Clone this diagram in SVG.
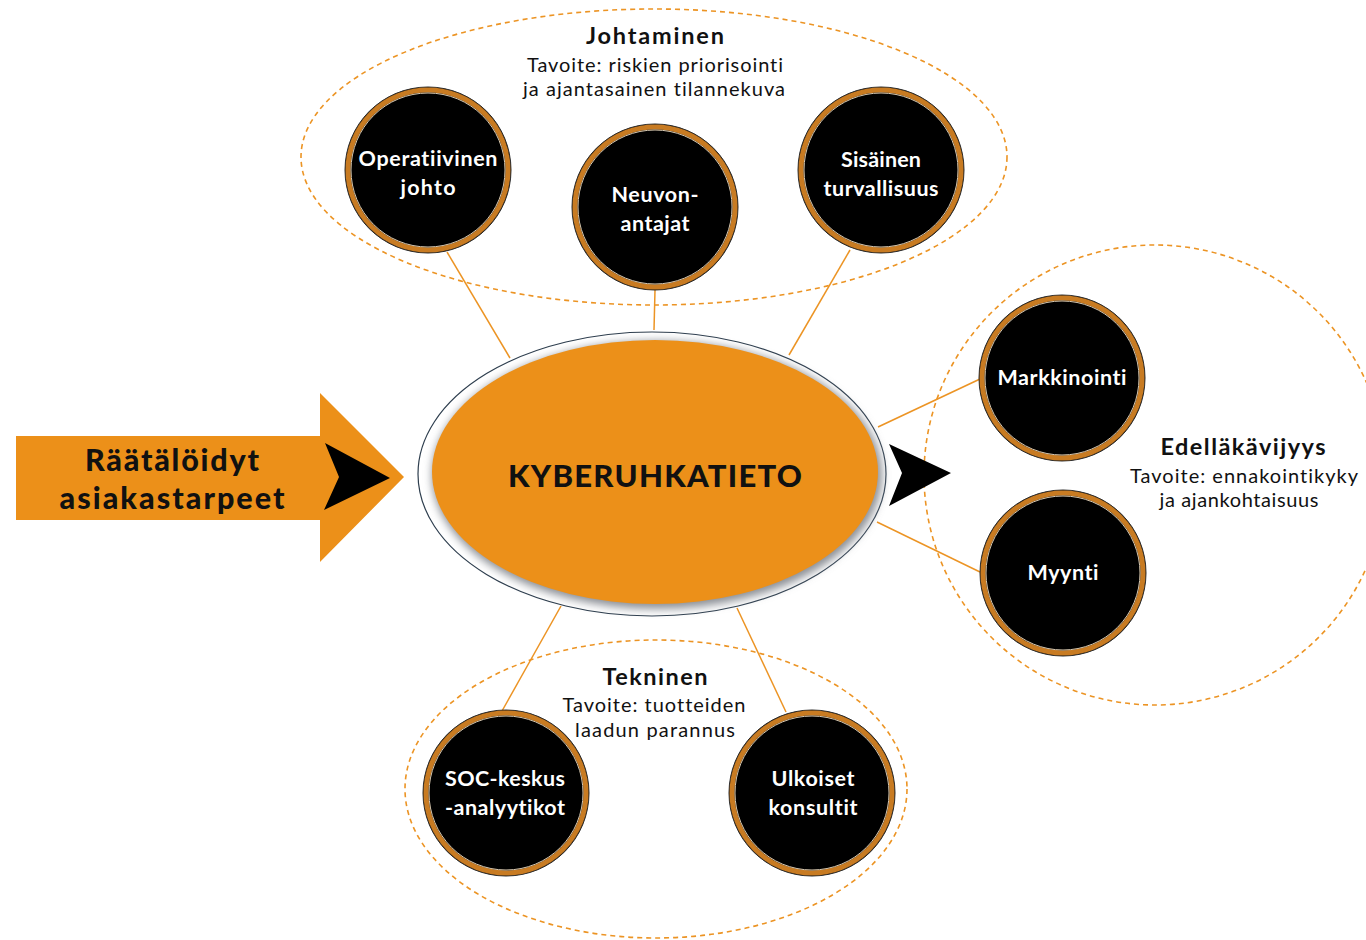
<svg xmlns="http://www.w3.org/2000/svg" width="1366" height="940" viewBox="0 0 1366 940">
  <defs>
    <style>
      text { font-variant-ligatures: none; font-feature-settings: "liga" 0, "clig" 0; }
      .group { fill: none; stroke: #EC9424; stroke-width: 1.6; stroke-dasharray: 5 4; }
      .link { stroke: #EC9424; stroke-width: 1.5; fill: none; }
      .ring-out { fill: #000; stroke: #2b2b2b; stroke-width: 1; }
      .ring { fill: none; stroke: #C87B22; stroke-width: 5; }
      .ring-in { fill: none; stroke: #d9c9b0; stroke-width: 1; }
      .lbl { font-family: Lato, "Open Sans", "Liberation Sans", sans-serif; font-weight: 700; font-size: 21.5px; fill: #fff; text-anchor: middle; }
      .title { font-family: Lato, "Open Sans", "Liberation Sans", sans-serif; font-weight: 700; font-size: 23.5px; fill: #111; text-anchor: middle; }
      .sub { font-family: Lato, "Open Sans", "Liberation Sans", sans-serif; font-size: 20px; fill: #111; text-anchor: middle; }
      .big { font-family: Lato, "Open Sans", "Liberation Sans", sans-serif; font-weight: 900; fill: #111; text-anchor: middle; }
    </style>
    <filter id="soft" x="-10%" y="-10%" width="120%" height="120%">
      <feGaussianBlur stdDeviation="4"/>
    </filter>
    <g id="node">
      <circle r="83" class="ring-out"/>
      <circle r="80" class="ring"/>
      <circle r="77" class="ring-in"/>
    </g>
  </defs>

  <rect width="1366" height="940" fill="#fff"/>

  <!-- group outlines -->
  <g id="groups">
    <ellipse cx="654" cy="157" rx="353" ry="148" class="group"/>
    <ellipse cx="1155" cy="475" rx="231" ry="230" class="group"/>
    <ellipse cx="656" cy="789" rx="251" ry="149" class="group"/>
  </g>

  <!-- connectors -->
  <g id="connectors">
    <line x1="447" y1="252" x2="510" y2="358" class="link"/>
    <line x1="655" y1="290" x2="654" y2="330" class="link"/>
    <line x1="850" y1="250" x2="789" y2="355" class="link"/>
    <line x1="980" y1="379" x2="878" y2="427" class="link"/>
    <line x1="980" y1="572" x2="877" y2="522" class="link"/>
    <line x1="502" y1="711" x2="561" y2="606" class="link"/>
    <line x1="786" y1="712" x2="737" y2="608" class="link"/>
  </g>

  <!-- input arrow -->
  <g id="input-arrow">
    <polygon points="16,436 320,436 320,393 404,477 320,562 320,520 16,520" fill="#EC9019"/>
    <polygon points="325,443 390,478 324,510 339,477" fill="#000"/>
    <text x="172" y="471" class="big" font-size="30.5" textLength="174" lengthAdjust="spacing">Räätälöidyt</text>
    <text x="172" y="509" class="big" font-size="30.5" textLength="225" lengthAdjust="spacing">asiakastarpeet</text>
  </g>

  <!-- central node -->
  <g id="center">
    <ellipse cx="652" cy="474" rx="234" ry="142" fill="#fff" stroke="#2e3e4e" stroke-width="1.2"/>
    <ellipse cx="657" cy="475" rx="225" ry="134" fill="#8c9096" filter="url(#soft)"/>
    <ellipse cx="655" cy="472" rx="223" ry="132" fill="#EC9019"/>
    <text x="655" y="487" class="big" font-size="31" textLength="294" lengthAdjust="spacing">KYBERUHKATIETO</text>
  </g>

  <!-- output chevron -->
  <g id="output-arrow">
    <polygon points="889,444 951,473 889,506 902,473" fill="#000"/>
  </g>

  <!-- Johtaminen -->
  <g id="johtaminen-label">
    <text x="655" y="44" class="title" textLength="138" lengthAdjust="spacing">Johtaminen</text>
    <text x="655" y="72" class="sub" textLength="256" lengthAdjust="spacing">Tavoite: riskien priorisointi</text>
    <text x="654" y="96" class="sub" textLength="262" lengthAdjust="spacing">ja ajantasainen tilannekuva</text>
  </g>
  <g id="operatiivinen" transform="translate(428,170)">
    <use href="#node"/>
    <text y="-4" class="lbl" textLength="139" lengthAdjust="spacing">Operatiivinen</text>
    <text y="25" class="lbl" textLength="55" lengthAdjust="spacing">johto</text>
  </g>
  <g id="neuvonantajat" transform="translate(655,207)">
    <use href="#node"/>
    <text y="-5" class="lbl" textLength="87" lengthAdjust="spacing">Neuvon-</text>
    <text y="24" class="lbl" textLength="69" lengthAdjust="spacing">antajat</text>
  </g>
  <g id="sisainen" transform="translate(881,170)">
    <use href="#node"/>
    <text y="-3" class="lbl" textLength="80" lengthAdjust="spacing">Sisäinen</text>
    <text y="26" class="lbl" textLength="115" lengthAdjust="spacing">turvallisuus</text>
  </g>

  <!-- Edelläkävijyys -->
  <g id="edellakavijyys-label">
    <text x="1243" y="455" class="title" textLength="165" lengthAdjust="spacing">Edelläkävijyys</text>
    <text x="1244" y="483" class="sub" textLength="228" lengthAdjust="spacing">Tavoite: ennakointikyky</text>
    <text x="1239" y="507" class="sub" textLength="159" lengthAdjust="spacing">ja ajankohtaisuus</text>
  </g>
  <g id="markkinointi" transform="translate(1062,378)">
    <use href="#node"/>
    <text y="7" class="lbl" textLength="129" lengthAdjust="spacing">Markkinointi</text>
  </g>
  <g id="myynti" transform="translate(1063,573)">
    <use href="#node"/>
    <text y="7" class="lbl" textLength="71" lengthAdjust="spacing">Myynti</text>
  </g>

  <!-- Tekninen -->
  <g id="tekninen-label">
    <text x="655" y="685" class="title" textLength="105" lengthAdjust="spacing">Tekninen</text>
    <text x="654" y="712" class="sub" textLength="183" lengthAdjust="spacing">Tavoite: tuotteiden</text>
    <text x="655" y="737" class="sub" textLength="160" lengthAdjust="spacing">laadun parannus</text>
  </g>
  <g id="soc" transform="translate(506,793)">
    <use href="#node"/>
    <text x="-1" y="-7" class="lbl" textLength="120" lengthAdjust="spacing">SOC-keskus</text>
    <text x="-1" y="22" class="lbl" textLength="120" lengthAdjust="spacing">-analyytikot</text>
  </g>
  <g id="ulkoiset" transform="translate(812,793)">
    <use href="#node"/>
    <text x="1" y="-7" class="lbl" textLength="83" lengthAdjust="spacing">Ulkoiset</text>
    <text x="1" y="22" class="lbl" textLength="89" lengthAdjust="spacing">konsultit</text>
  </g>
</svg>
